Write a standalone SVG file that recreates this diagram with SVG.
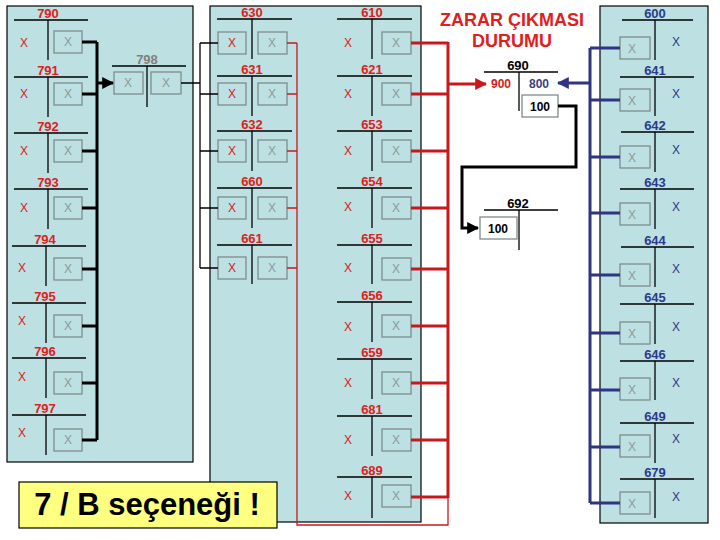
<svg xmlns="http://www.w3.org/2000/svg" width="720" height="540" viewBox="0 0 720 540">
<style>
.panel{fill:#BDE0E3;stroke:#000;stroke-width:1.2}
.t line{stroke:#000;stroke-width:1.3}
.bx{fill:#BDE0E3;stroke:#7F8C8C;stroke-width:1.3}
.lr{font-family:"Liberation Sans",Arial,sans-serif;font-weight:bold;font-size:13px;fill:#E0201C;text-anchor:middle}
.lb{font-family:"Liberation Sans",Arial,sans-serif;font-weight:bold;font-size:13px;fill:#2B3A8A;text-anchor:middle}
.lk{font-family:"Liberation Sans",Arial,sans-serif;font-weight:bold;font-size:13px;fill:#000;text-anchor:middle}
.xr{font-family:"Liberation Sans",Arial,sans-serif;font-size:12px;fill:#D42020;text-anchor:middle}
.xb{font-family:"Liberation Sans",Arial,sans-serif;font-size:12px;fill:#2B3A8A;text-anchor:middle}
.xg{font-family:"Liberation Sans",Arial,sans-serif;font-size:12px;fill:#8A9A9A;text-anchor:middle}
.kb{stroke:#000;stroke-width:3;fill:none}
.kt{stroke:#000;stroke-width:1.3;fill:none}
.rb{stroke:#C8181E;stroke-width:3;fill:none}
.rt{stroke:#C8181E;stroke-width:1.3;fill:none}
.bb{stroke:#2F3580;stroke-width:3;fill:none}
</style>
<defs>
<marker id="ak" viewBox="0 0 10 10" refX="9" refY="5" markerWidth="4" markerHeight="4" orient="auto"><path d="M0,0 L10,5 L0,10 z" fill="#000"/></marker>
<marker id="ar" viewBox="0 0 10 10" refX="9" refY="5" markerWidth="4" markerHeight="4" orient="auto"><path d="M0,0 L10,5 L0,10 z" fill="#C8181E"/></marker>
<marker id="ab" viewBox="0 0 10 10" refX="9" refY="5" markerWidth="4" markerHeight="4" orient="auto"><path d="M0,0 L10,5 L0,10 z" fill="#2F3580"/></marker>
</defs>
<rect width="720" height="540" fill="#fff"/>
<rect class="panel" x="7" y="6" width="186" height="456"/>
<rect class="panel" x="210" y="6" width="211" height="516"/>
<rect class="panel" x="600" y="6" width="108" height="517"/>

<!-- left panel -->
<g id="t790" class="t"><text class="lr" x="48" y="18">790</text><line x1="14" y1="20" x2="88" y2="20"/><line x1="48" y1="20" x2="48" y2="60"/><text class="xr" x="24" y="47">X</text><rect class="bx" x="54" y="31" width="28" height="22"/><text class="xg" x="68" y="46">X</text></g>
<g id="t791" class="t"><text class="lr" x="48" y="75">791</text><line x1="14" y1="77" x2="88" y2="77"/><line x1="48" y1="77" x2="48" y2="117"/><text class="xr" x="24" y="98">X</text><rect class="bx" x="54" y="83" width="28" height="22"/><text class="xg" x="68" y="98">X</text></g>
<g id="t792" class="t"><text class="lr" x="48" y="131">792</text><line x1="14" y1="133" x2="88" y2="133"/><line x1="48" y1="133" x2="48" y2="173"/><text class="xr" x="24" y="155">X</text><rect class="bx" x="54" y="140" width="28" height="22"/><text class="xg" x="68" y="155">X</text></g>
<g id="t793" class="t"><text class="lr" x="48" y="187">793</text><line x1="14" y1="189" x2="88" y2="189"/><line x1="48" y1="189" x2="48" y2="229"/><text class="xr" x="24" y="212">X</text><rect class="bx" x="54" y="197" width="28" height="22"/><text class="xg" x="68" y="212">X</text></g>
<g id="t794" class="t"><text class="lr" x="45" y="244">794</text><line x1="12" y1="246" x2="86" y2="246"/><line x1="46" y1="246" x2="46" y2="286"/><text class="xr" x="22" y="272">X</text><rect class="bx" x="54" y="258" width="28" height="22"/><text class="xg" x="68" y="273">X</text></g>
<g id="t795" class="t"><text class="lr" x="45" y="301">795</text><line x1="12" y1="303" x2="86" y2="303"/><line x1="46" y1="303" x2="46" y2="343"/><text class="xr" x="22" y="325">X</text><rect class="bx" x="54" y="315" width="28" height="22"/><text class="xg" x="68" y="330">X</text></g>
<g id="t796" class="t"><text class="lr" x="45" y="356">796</text><line x1="12" y1="358" x2="86" y2="358"/><line x1="46" y1="358" x2="46" y2="398"/><text class="xr" x="22" y="381">X</text><rect class="bx" x="54" y="372" width="28" height="22"/><text class="xg" x="68" y="387">X</text></g>
<g id="t797" class="t"><text class="lr" x="45" y="413">797</text><line x1="12" y1="415" x2="86" y2="415"/><line x1="46" y1="415" x2="46" y2="455"/><text class="xr" x="22" y="437">X</text><rect class="bx" x="54" y="429" width="28" height="22"/><text class="xg" x="68" y="444">X</text></g>
<g id="t798" class="t"><text x="147" y="64" font-family="Liberation Sans, Arial, sans-serif" font-weight="bold" font-size="13" fill="#808080" text-anchor="middle">798</text><line x1="112" y1="66" x2="186" y2="66"/><line x1="147" y1="66" x2="147" y2="107"/><rect class="bx" x="114" y="72" width="29" height="22"/><text class="xg" x="128" y="87">X</text><rect class="bx" x="151" y="72" width="30" height="22"/><text class="xg" x="166" y="87">X</text></g>

<!-- middle panel left column -->
<g id="t630" class="t"><text class="lr" x="252" y="17">630</text><line x1="217" y1="19" x2="292" y2="19"/><line x1="252" y1="19" x2="252" y2="59"/><rect class="bx" x="218" y="32" width="28" height="22"/><text class="xr" x="232" y="47">X</text><rect class="bx" x="258" y="32" width="29" height="22"/><text class="xg" x="272" y="47">X</text></g>
<g id="t631" class="t"><text class="lr" x="252" y="74">631</text><line x1="217" y1="76" x2="292" y2="76"/><line x1="252" y1="76" x2="252" y2="116"/><rect class="bx" x="218" y="83" width="28" height="22"/><text class="xr" x="232" y="98">X</text><rect class="bx" x="258" y="83" width="29" height="22"/><text class="xg" x="272" y="98">X</text></g>
<g id="t632" class="t"><text class="lr" x="252" y="129">632</text><line x1="217" y1="131" x2="292" y2="131"/><line x1="252" y1="131" x2="252" y2="171"/><rect class="bx" x="218" y="140" width="28" height="22"/><text class="xr" x="232" y="155">X</text><rect class="bx" x="258" y="140" width="29" height="22"/><text class="xg" x="272" y="155">X</text></g>
<g id="t660" class="t"><text class="lr" x="252" y="186">660</text><line x1="217" y1="188" x2="292" y2="188"/><line x1="252" y1="188" x2="252" y2="228"/><rect class="bx" x="218" y="197" width="28" height="22"/><text class="xr" x="232" y="212">X</text><rect class="bx" x="258" y="197" width="29" height="22"/><text class="xg" x="272" y="212">X</text></g>
<g id="t661" class="t"><text class="lr" x="252" y="243">661</text><line x1="217" y1="245" x2="292" y2="245"/><line x1="252" y1="245" x2="252" y2="284"/><rect class="bx" x="218" y="257" width="28" height="22"/><text class="xr" x="232" y="272">X</text><rect class="bx" x="258" y="257" width="29" height="22"/><text class="xg" x="272" y="272">X</text></g>

<!-- middle panel right column -->
<g id="t610" class="t"><text class="lr" x="372" y="17">610</text><line x1="337" y1="19" x2="412" y2="19"/><line x1="372" y1="19" x2="372" y2="59"/><text class="xr" x="348" y="47">X</text><rect class="bx" x="382" y="32" width="29" height="22"/><text class="xg" x="396" y="47">X</text></g>
<g id="t621" class="t"><text class="lr" x="372" y="74">621</text><line x1="337" y1="76" x2="412" y2="76"/><line x1="372" y1="76" x2="372" y2="116"/><text class="xr" x="348" y="98">X</text><rect class="bx" x="382" y="83" width="29" height="22"/><text class="xg" x="396" y="98">X</text></g>
<g id="t653" class="t"><text class="lr" x="372" y="129">653</text><line x1="337" y1="131" x2="412" y2="131"/><line x1="372" y1="131" x2="372" y2="171"/><text class="xr" x="348" y="155">X</text><rect class="bx" x="382" y="140" width="29" height="22"/><text class="xg" x="396" y="155">X</text></g>
<g id="t654" class="t"><text class="lr" x="372" y="186">654</text><line x1="337" y1="188" x2="412" y2="188"/><line x1="372" y1="188" x2="372" y2="228"/><text class="xr" x="348" y="211">X</text><rect class="bx" x="382" y="197" width="29" height="22"/><text class="xg" x="396" y="212">X</text></g>
<g id="t655" class="t"><text class="lr" x="372" y="243">655</text><line x1="337" y1="245" x2="412" y2="245"/><line x1="372" y1="245" x2="372" y2="284"/><text class="xr" x="348" y="272">X</text><rect class="bx" x="382" y="258" width="29" height="22"/><text class="xg" x="396" y="273">X</text></g>
<g id="t656" class="t"><text class="lr" x="372" y="300">656</text><line x1="337" y1="302" x2="412" y2="302"/><line x1="372" y1="302" x2="372" y2="342"/><text class="xr" x="348" y="331">X</text><rect class="bx" x="382" y="315" width="29" height="22"/><text class="xg" x="396" y="330">X</text></g>
<g id="t659" class="t"><text class="lr" x="372" y="357">659</text><line x1="337" y1="359" x2="412" y2="359"/><line x1="372" y1="359" x2="372" y2="399"/><text class="xr" x="348" y="387">X</text><rect class="bx" x="382" y="372" width="29" height="22"/><text class="xg" x="396" y="387">X</text></g>
<g id="t681" class="t"><text class="lr" x="372" y="414">681</text><line x1="337" y1="416" x2="412" y2="416"/><line x1="372" y1="416" x2="372" y2="456"/><text class="xr" x="348" y="444">X</text><rect class="bx" x="382" y="429" width="29" height="22"/><text class="xg" x="396" y="444">X</text></g>
<g id="t689" class="t"><text class="lr" x="372" y="475">689</text><line x1="337" y1="477" x2="412" y2="477"/><line x1="372" y1="477" x2="372" y2="518"/><text class="xr" x="348" y="500">X</text><rect class="bx" x="382" y="485" width="29" height="22"/><text class="xg" x="396" y="500">X</text></g>

<!-- right panel -->
<g id="t600" class="t"><text class="lb" x="655" y="18">600</text><line x1="622" y1="20" x2="693" y2="20"/><line x1="655" y1="20" x2="655" y2="60"/><rect class="bx" x="620" y="37" width="30" height="22"/><text class="xg" x="632" y="53">X</text><text class="xb" x="676" y="46">X</text></g>
<g id="t641" class="t"><text class="lb" x="655" y="75">641</text><line x1="620" y1="77" x2="694" y2="77"/><line x1="655" y1="77" x2="655" y2="116"/><rect class="bx" x="620" y="89" width="30" height="22"/><text class="xg" x="632" y="105">X</text><text class="xb" x="676" y="98">X</text></g>
<g id="t642" class="t"><text class="lb" x="655" y="130">642</text><line x1="621" y1="132" x2="694" y2="132"/><line x1="655" y1="132" x2="655" y2="172"/><rect class="bx" x="620" y="146" width="30" height="22"/><text class="xg" x="632" y="162">X</text><text class="xb" x="676" y="154">X</text></g>
<g id="t643" class="t"><text class="lb" x="655" y="187">643</text><line x1="620" y1="189" x2="694" y2="189"/><line x1="655" y1="189" x2="655" y2="229"/><rect class="bx" x="620" y="203" width="30" height="22"/><text class="xg" x="632" y="219">X</text><text class="xb" x="676" y="211">X</text></g>
<g id="t644" class="t"><text class="lb" x="655" y="245">644</text><line x1="621" y1="247" x2="694" y2="247"/><line x1="655" y1="247" x2="655" y2="287"/><rect class="bx" x="620" y="264" width="30" height="22"/><text class="xg" x="632" y="280">X</text><text class="xb" x="676" y="273">X</text></g>
<g id="t645" class="t"><text class="lb" x="655" y="302">645</text><line x1="620" y1="304" x2="694" y2="304"/><line x1="655" y1="304" x2="655" y2="344"/><rect class="bx" x="620" y="322" width="30" height="22"/><text class="xg" x="632" y="338">X</text><text class="xb" x="676" y="331">X</text></g>
<g id="t646" class="t"><text class="lb" x="655" y="359">646</text><line x1="620" y1="361" x2="694" y2="361"/><line x1="655" y1="361" x2="655" y2="400"/><rect class="bx" x="620" y="378" width="30" height="22"/><text class="xg" x="632" y="394">X</text><text class="xb" x="676" y="387">X</text></g>
<g id="t649" class="t"><text class="lb" x="655" y="421">649</text><line x1="620" y1="423" x2="694" y2="423"/><line x1="655" y1="423" x2="655" y2="463"/><rect class="bx" x="620" y="435" width="30" height="22"/><text class="xg" x="632" y="451">X</text><text class="xb" x="676" y="443">X</text></g>
<g id="t679" class="t"><text class="lb" x="655" y="477">679</text><line x1="620" y1="479" x2="694" y2="479"/><line x1="655" y1="479" x2="655" y2="518"/><rect class="bx" x="620" y="492" width="30" height="22"/><text class="xg" x="632" y="508">X</text><text class="xb" x="676" y="501">X</text></g>

<!-- 690 / 692 -->
<g id="t690" class="t"><text class="lk" x="518" y="70">690</text><line x1="484" y1="72" x2="558" y2="72"/><line x1="519" y1="72" x2="519" y2="111"/><text x="501" y="88" font-family="Liberation Sans, Arial, sans-serif" font-weight="bold" font-size="12" fill="#D42020" text-anchor="middle">900</text><text x="539" y="88" font-family="Liberation Sans, Arial, sans-serif" font-weight="bold" font-size="12" fill="#3B3F7A" text-anchor="middle">800</text><rect class="bx" x="522" y="95" width="36" height="22" style="fill:#fff"/><text x="540" y="111" font-family="Liberation Sans, Arial, sans-serif" font-weight="bold" font-size="12" fill="#000" text-anchor="middle">100</text></g>
<g id="t692" class="t"><text class="lk" x="518" y="208">692</text><line x1="484" y1="210" x2="558" y2="210"/><line x1="519" y1="210" x2="519" y2="250"/><rect class="bx" x="480" y="217" width="37" height="22" style="fill:#fff"/><text x="498" y="233" font-family="Liberation Sans, Arial, sans-serif" font-weight="bold" font-size="12" fill="#000" text-anchor="middle">100</text></g>

<g id="title"><text x="512" y="26" font-family="Liberation Sans, Arial, sans-serif" font-weight="bold" font-size="18" fill="#E0201C" text-anchor="middle">ZARAR ÇIKMASI</text><text x="512" y="47" font-family="Liberation Sans, Arial, sans-serif" font-weight="bold" font-size="18" fill="#E0201C" text-anchor="middle">DURUMU</text></g>

<g id="note"><rect x="19" y="482" width="258" height="46" fill="#FFFF80" stroke="#000" stroke-width="1.2"/><text x="147" y="515" font-family="Liberation Sans, Arial, sans-serif" font-weight="bold" font-size="31" fill="#000" text-anchor="middle">7 / B seçeneği !</text></g>

<g id="connectors">
<path class="kb" d="M82 42H97M82 94H97M82 151H97M82 208H97M82 269H97M82 326H97M82 383H97M82 440H97M97 42V440"/>
<line class="kb" x1="97" y1="83" x2="113" y2="83" marker-end="url(#ak)"/>
<path class="kt" d="M181 83H200M200 43V268M200 43H218M200 94H218M200 151H218M200 208H218M200 268H218"/>
<path class="rt" d="M287 43H297M287 94H297M287 151H297M287 208H297M287 268H297M297 43V525H448V497"/>
<path class="rb" d="M411 43H448M411 94H448M411 151H448M411 208H448M411 269H448M411 326H448M411 383H448M411 440H448M411 497H448M448 42V498"/>
<line class="rb" x1="448" y1="84" x2="486" y2="84" marker-end="url(#ar)"/>
<path class="bb" d="M590 48V503M590 48H620M590 100H620M590 157H620M590 213H620M590 275H620M590 333H620M590 390H620M590 447H620M590 503H620"/>
<line class="bb" x1="590" y1="83" x2="558" y2="83" marker-end="url(#ab)"/>
<path class="kb" d="M558 106H576V167H462V228H478" marker-end="url(#ak)"/>
</g>
</svg>
